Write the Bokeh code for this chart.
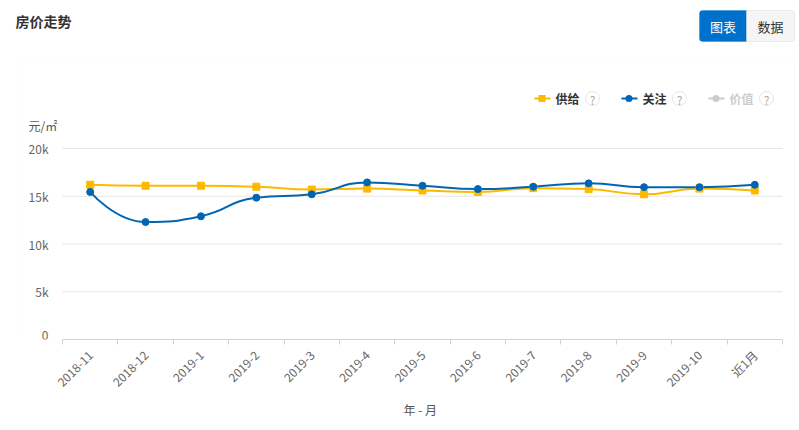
from math import pi, sqrt
from bokeh.plotting import figure
from bokeh.models import Range1d, FixedTicker, Label, BoxAnnotation, ColumnDataSource, Title
from bokeh.embed import file_html
from bokeh.resources import INLINE

# ---- data ----
months = ["2018-11", "2018-12", "2019-1", "2019-2", "2019-3", "2019-4", "2019-5",
          "2019-6", "2019-7", "2019-8", "2019-9", "2019-10", "近1月"]
supply = [16200, 16100, 16100, 16000, 15700, 15800, 15600, 15450, 15850, 15750, 15200, 15800, 15600]
attention = [15450, 12300, 12900, 14850, 15200, 16450, 16100, 15750, 16000, 16350, 15950, 15950, 16200]
y_ticks = [0, 5000, 10000, 15000, 20000]
y_tick_labels = ["0", "5k", "10k", "15k", "20k"]
legend_names = ["供给", "关注", "价值"]
y_unit = "元/㎡"
x_title = "年 - 月"
title = "房价走势"
buttons = ["图表", "数据"]

YELLOW = "#fdb900"
BLUE = "#0066b3"
GRAY = "#cccccc"
FONT = "Noto Sans CJK SC"

# ---- layout constants (page pixels) ----
W, H = 799, 430
PLOT_L, PLOT_R = 62, 782            # category band extent
FRAME_L, FRAME_R = 15, 795          # drawing frame
FB = 91
FRAME_BOTTOM = H - FB
N = len(months)
PX_X = (PLOT_R - PLOT_L) / N
PX_PER_VAL = 191 / 20000
Y_END = FRAME_BOTTOM / PX_PER_VAL
X_START = -0.5 - (PLOT_L - FRAME_L) / PX_X
X_END = N - 0.5 + (FRAME_R - PLOT_R) / PX_X

p = figure(width=W, height=H, output_backend="svg", toolbar_location=None,
           x_range=Range1d(X_START, X_END), y_range=Range1d(0, Y_END),
           y_axis_location=None,
           min_border_left=FRAME_L, min_border_right=W - FRAME_R,
           min_border_top=0, min_border_bottom=FB)
p.outline_line_color = None
p.background_fill_color = "white"
p.border_fill_color = "white"
p.grid.visible = False

# horizontal grid lines across the category bands
p.segment(x0=[-0.5] * len(y_ticks), x1=[N - 0.5] * len(y_ticks), y0=y_ticks, y1=y_ticks,
          line_color="#e6e6e6", line_width=1)

# x axis
xs = list(range(N))
xax = p.xaxis[0]
xax.bounds = (-0.5, N - 0.5)
xax.ticker = FixedTicker(ticks=xs, minor_ticks=[i - 0.5 for i in range(N + 1)])
xax.major_label_overrides = {i: m for i, m in zip(xs, months)}
xax.axis_line_color = "#c6d4e9"
xax.major_tick_line_color = None
xax.major_tick_out = 0
xax.major_tick_in = 0
xax.minor_tick_line_color = "#c6d4e9"
xax.minor_tick_out = 5
xax.minor_tick_in = 0
xax.major_label_orientation = pi / 4
xax.major_label_standoff = 8
xax.major_label_text_color = "#666666"
xax.major_label_text_font = FONT
xax.major_label_text_font_size = "12px"

# x axis title, centred under the category bands
x_title_obj = Title(text=x_title, align="left", offset=(PLOT_L + PLOT_R) / 2 - 19 - FRAME_L,
                    text_font=FONT, text_font_size="12px", text_font_style="normal",
                    text_color="#555555", standoff=0)
p.add_layout(x_title_obj, "below")

# smooth line, echarts-5 style (control points clamped), computed in pixel space
def smooth_segments(xv, yv, smooth=0.5):
    P = [(x * PX_X, y * PX_PER_VAL) for x, y in zip(xv, yv)]
    n = len(P)
    out = {k: [] for k in ["x0", "y0", "x1", "y1", "cx0", "cy0", "cx1", "cy1"]}
    cpx0, cpy0 = P[0]
    prevX, prevY = P[0]
    for k in range(1, n):
        x, y = P[k]
        if k == n - 1:
            cpx1, cpy1 = x, y
            nextCpx0, nextCpy0 = x, y
        else:
            nextX, nextY = P[k + 1]
            vx, vy = nextX - prevX, nextY - prevY
            lp = sqrt((x - prevX) ** 2 + (y - prevY) ** 2)
            ln = sqrt((nextX - x) ** 2 + (nextY - y) ** 2)
            r = ln / (ln + lp)
            nextCpx0 = x + vx * smooth * r
            nextCpy0 = y + vy * smooth * r
            nextCpx0 = max(min(nextCpx0, max(nextX, x)), min(nextX, x))
            nextCpy0 = max(min(nextCpy0, max(nextY, y)), min(nextY, y))
            vx, vy = nextCpx0 - x, nextCpy0 - y
            cpx1 = x - vx * lp / ln
            cpy1 = y - vy * lp / ln
            cpx1 = max(min(cpx1, max(prevX, x)), min(prevX, x))
            cpy1 = max(min(cpy1, max(prevY, y)), min(prevY, y))
            vx, vy = x - cpx1, y - cpy1
            nextCpx0 = x + vx * ln / lp
            nextCpy0 = y + vy * ln / lp
        out["x0"].append(prevX / PX_X); out["y0"].append(prevY / PX_PER_VAL)
        out["x1"].append(x / PX_X); out["y1"].append(y / PX_PER_VAL)
        out["cx0"].append(cpx0 / PX_X); out["cy0"].append(cpy0 / PX_PER_VAL)
        out["cx1"].append(cpx1 / PX_X); out["cy1"].append(cpy1 / PX_PER_VAL)
        cpx0, cpy0 = nextCpx0, nextCpy0
        prevX, prevY = x, y
    return out

src_s = ColumnDataSource(smooth_segments(xs, supply))
src_a = ColumnDataSource(smooth_segments(xs, attention))
p.bezier(x0="x0", y0="y0", x1="x1", y1="y1", cx0="cx0", cy0="cy0", cx1="cx1", cy1="cy1",
         source=src_s, line_color=YELLOW, line_width=2)
p.bezier(x0="x0", y0="y0", x1="x1", y1="y1", cx0="cx0", cy0="cy0", cx1="cx1", cy1="cy1",
         source=src_a, line_color=BLUE, line_width=2)
p.scatter(xs, supply, marker="square", size=7, fill_color=YELLOW, line_color=YELLOW)
p.scatter(xs, attention, marker="circle", size=7, fill_color=BLUE, line_color=BLUE)

# ---- helpers: page px -> frame-relative screen units ----
def sx(px):
    return px - FRAME_L

def sy(py):
    return FRAME_BOTTOM - py

def box(l, t, r, b, **kw):
    kw.setdefault("fill_alpha", 1.0)
    p.add_layout(BoxAnnotation(left=sx(l), right=sx(r), top=sy(t), bottom=sy(b),
                               left_units="screen", right_units="screen",
                               top_units="screen", bottom_units="screen", **kw))

def label(px, py, text, size="12px", color="#333333", align="left", style="normal"):
    p.add_layout(Label(x=sx(px), y=sy(py), x_units="screen", y_units="screen", text=text,
                       text_font=FONT, text_font_size=size, text_color=color,
                       text_align=align, text_baseline="middle", text_font_style=style))

# faint card outline
box(15.5, 57.5, 793.5, 600, fill_alpha=0.0, line_color="#f0f0f0", line_width=1)

# y axis labels (value axis without line/ticks), placed on the y scale
for t, lab in zip(y_ticks, y_tick_labels):
    p.add_layout(Label(x=sx(48), y=t, x_units="screen", y_units="data", text=lab,
                       text_font=FONT, text_font_size="12px", text_color="#666666",
                       text_align="right",
                       text_baseline="bottom" if t == 0 else "middle"))
label(28, 125, y_unit, size="12px", color="#555555")

# title and buttons
label(15, 20, title, size="14px", color="#333333", style="bold")
box(699, 10, 746, 41, fill_color="#0070cd", line_color="#0070cd", border_radius=(3, 0, 0, 3))
box(746, 10, 794, 41, fill_color="#f5f5f5", line_color="#cccccc", border_radius=(0, 3, 3, 0))
label(722.5, 26, buttons[0], size="13px", color="white", align="center")
label(770, 26, buttons[1], size="13px", color="#333333", align="center")

# legend
leg_x = [534, 621, 708]
leg_colors = [YELLOW, BLUE, GRAY]
leg_text_colors = ["#333333", "#333333", GRAY]
ly = 98
for i, (lx, c, tc, name) in enumerate(zip(leg_x, leg_colors, leg_text_colors, legend_names)):
    box(lx, ly - 1, lx + 16, ly + 1, fill_color=c, line_color=None)
    if i == 0:
        box(lx + 4, ly - 3.5, lx + 11, ly + 3.5, fill_color=c, line_color=None)
    else:
        box(lx + 4, ly - 3.5, lx + 11, ly + 3.5, fill_color=c, line_color=None, border_radius=4)
    label(lx + 21, ly, name, size="12px", color=tc, style="bold")
    qx = lx + 58
    box(qx - 7, ly - 7, qx + 7, ly + 7, fill_alpha=0.0, line_color="#aaaaaa", line_width=1,
        border_radius=7)
    label(qx, ly + 0.5, "?", size="12px", color="#aaaaaa", align="center")

open("out.html", "w").write(file_html(p, INLINE))
